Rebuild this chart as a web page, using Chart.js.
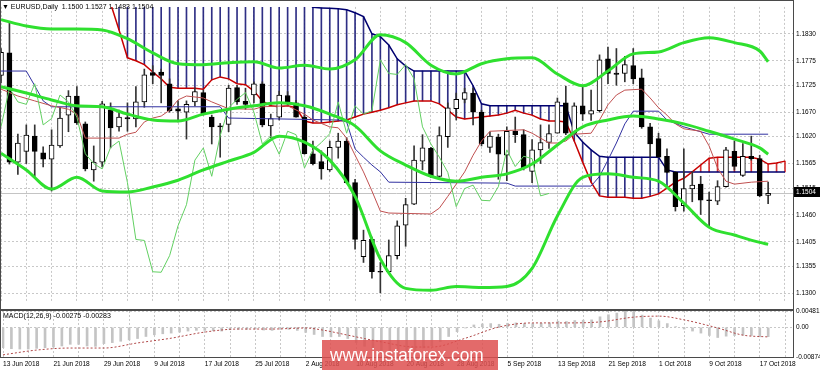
<!DOCTYPE html>
<html>
<head>
<meta charset="utf-8">
<title>EURUSD Daily</title>
<script src="https://cdn.jsdelivr.net/npm/chart.js@4.4.1/dist/chart.umd.min.js"></script>
<style>
    body { margin: 0; width: 820px; height: 370px; overflow: hidden; background: #fff; position: relative;
           font-family: 'Liberation Sans', Arial, sans-serif; }
    canvas { position: absolute; left: 0; }
    #mainChart { top: 0; }
    #macdChart { top: 300px; }
    .frame { position: absolute; left: 0; width: 794px; box-sizing: border-box; border: 1px solid #4a4a4a; pointer-events: none; }
    .label { position: absolute; font-size: 7px; color: #000; white-space: pre; }
    #watermark { position: absolute; left: 322px; top: 340px; width: 176px; height: 32px; background: rgba(222, 80, 80, 0.85); overflow: hidden; }
    #watermark span { position: absolute; left: 8px; top: 4px; color: #fff; font-size: 19px; transform: scaleX(0.91); transform-origin: left top; white-space: nowrap; }
</style>
</head>
<body>
<canvas id="mainChart" width="820" height="310"></canvas>
<canvas id="macdChart" width="820" height="70"></canvas>
<div class="frame" style="top:0;height:310px"></div>
<div class="frame" style="top:310px;height:48px"></div>
<div class="label" id="title" style="left:2px;top:3px"></div>
<div class="label" id="macdTitle" style="left:3px;top:312px"></div>
<div id="watermark"><span>www.instaforex.com</span></div>
<script>
// ---- data ----
const dateLabels = ['13 Jun 2018', '21 Jun 2018', '29 Jun 2018', '9 Jul 2018', '17 Jul 2018', '25 Jul 2018',
    '2 Aug 2018', '10 Aug 2018', '20 Aug 2018', '28 Aug 2018', '5 Sep 2018', '13 Sep 2018',
    '21 Sep 2018', '1 Oct 2018', '9 Oct 2018', '17 Oct 2018'];
const priceTicks = [1.1830, 1.1775, 1.1725, 1.1670, 1.1620, 1.1565, 1.1515, 1.1460, 1.1405, 1.1355, 1.1300];
const macdTicks = [0.00481, 0, -0.00874];
const macdTickLabels = ['0.00481', '0.00', '-0.00874'];

const opens = [1.1745,1.1791,1.1568,1.1590,1.1621,1.1587,1.1574,1.1601,1.1664,1.1703,
    1.1646,1.1552,1.1568,1.1675,1.1640,1.1659,1.1656,1.1691,1.1751,1.1752,
    1.1728,1.1677,1.1670,1.1691,1.1710,1.1660,1.1642,1.1645,1.1720,1.1692,
    1.1705,1.1728,1.1642,1.1660,1.1704,1.1689,1.1660,1.1585,1.1569,1.1552,
    1.1598,1.1611,1.1526,1.1375,1.1410,1.1345,1.1344,1.1377,1.1439,1.1482,
    1.1570,1.1596,1.1539,1.1620,1.1677,1.1696,1.1709,1.1670,1.1598,1.1619,
    1.1582,1.1631,1.1624,1.1549,1.1593,1.1608,1.1627,1.1689,1.1627,1.1683,
    1.1666,1.1673,1.1779,1.1750,1.1749,1.1765,1.1740,1.1640,1.1616,1.1580,
    1.1547,1.1479,1.1513,1.1523,1.1491,1.1488,1.1518,1.1590,1.1541,1.1580,
    1.1575,1.1500];
const highs = [1.1800,1.1852,1.1625,1.1644,1.1644,1.1599,1.1634,1.1680,1.1714,1.1722,
    1.1650,1.1601,1.1692,1.1689,1.1674,1.1689,1.1722,1.1758,1.1765,1.1758,
    1.1738,1.1693,1.1693,1.1719,1.1715,1.1664,1.1647,1.1725,1.1725,1.1719,
    1.1732,1.1732,1.1666,1.1713,1.1712,1.1694,1.1664,1.1611,1.1591,1.1611,
    1.1627,1.1618,1.1533,1.1429,1.1415,1.1363,1.1409,1.1448,1.1494,1.1601,
    1.1624,1.1598,1.1640,1.1689,1.1709,1.1719,1.1719,1.1674,1.1630,1.1625,
    1.1640,1.1660,1.1634,1.1614,1.1644,1.1644,1.1699,1.1723,1.1689,1.1722,
    1.1715,1.1787,1.1803,1.1800,1.1784,1.1800,1.1758,1.1647,1.1627,1.1595,
    1.1549,1.1595,1.1549,1.1539,1.1507,1.1530,1.1598,1.1611,1.1606,1.1621,
    1.1582,1.1527];
const lows = [1.1730,1.1564,1.1543,1.1565,1.1539,1.1558,1.1509,1.1598,1.1630,1.1645,
    1.1550,1.1529,1.1558,1.1597,1.1631,1.1631,1.1640,1.1680,1.1728,1.1689,
    1.1670,1.1650,1.1615,1.1683,1.1664,1.1605,1.1578,1.1630,1.1686,1.1676,
    1.1689,1.1640,1.1618,1.1654,1.1686,1.1660,1.1584,1.1562,1.1533,1.1549,
    1.1576,1.1525,1.1390,1.1363,1.1331,1.1301,1.1344,1.1370,1.1396,1.1481,
    1.1552,1.1536,1.1537,1.1598,1.1654,1.1689,1.1644,1.1601,1.1588,1.1533,
    1.1530,1.1608,1.1552,1.1526,1.1565,1.1596,1.1627,1.1624,1.1627,1.1653,
    1.1653,1.1670,1.1728,1.1725,1.1732,1.1728,1.1637,1.1578,1.1578,1.1546,
    1.1468,1.1468,1.1487,1.1461,1.1436,1.1481,1.1517,1.1552,1.1539,1.1572,
    1.1497,1.1483];
const closes = [1.1792,1.1568,1.1607,1.1623,1.1590,1.1574,1.1603,1.1658,1.1703,1.1648,
    1.1554,1.1568,1.1687,1.1638,1.1660,1.1656,1.1691,1.1746,1.1745,1.1745,
    1.1673,1.1672,1.1686,1.1712,1.1666,1.1640,1.1640,1.1719,1.1691,1.1686,
    1.1728,1.1644,1.1657,1.1705,1.1691,1.1660,1.1585,1.1565,1.1554,1.1598,
    1.1611,1.1526,1.1410,1.1408,1.1344,1.1343,1.1377,1.1438,1.1481,1.1572,
    1.1597,1.1539,1.1622,1.1679,1.1696,1.1710,1.1670,1.1605,1.1621,1.1584,
    1.1631,1.1624,1.1556,1.1593,1.1608,1.1626,1.1691,1.1627,1.1683,1.1666,
    1.1673,1.1777,1.1749,1.1747,1.1767,1.1738,1.1640,1.1605,1.1578,1.1547,
    1.1477,1.1514,1.1521,1.1490,1.1489,1.1518,1.1593,1.1559,1.1580,1.1575,
    1.1499,1.1504];

// Bollinger bands, sampled every third bar
const bbIdx = [0,3,6,9,12,15,18,21,24,27,30,33,36,39,42,45,48,51,54,57,60,63,66,69,72,75,78,81,84,87,90,91];
const bbUpper = [1.1859,1.1846,1.1840,1.1840,1.1838,1.1820,1.1791,1.1769,1.1767,1.1771,1.1773,1.1760,1.1766,1.1758,1.1777,1.1828,
    1.1812,1.1766,1.1748,1.1769,1.1779,1.1781,1.1748,1.1724,1.1754,1.1789,1.1793,1.1812,1.1822,1.1812,1.1795,1.1773];
const bbMiddle = [1.1722,1.1709,1.1695,1.1683,1.1681,1.1666,1.1654,1.1652,1.1666,1.1676,1.1683,1.1689,1.1683,1.1666,1.1642,1.1591,
    1.1562,1.1539,1.1529,1.1537,1.1544,1.1564,1.1603,1.1640,1.1654,1.1662,1.1656,1.1646,1.1631,1.1615,1.1597,1.1584];
const bbLower = [1.1586,1.1552,1.1513,1.1537,1.1509,1.1507,1.1517,1.1531,1.1552,1.1570,1.1588,1.1621,1.1609,1.1572,1.1498,1.1370,
    1.1310,1.1306,1.1314,1.1312,1.1314,1.1351,1.1458,1.1537,1.1544,1.1537,1.1529,1.1484,1.1435,1.1419,1.1404,1.1400];

// Ichimoku
const tenkanIdx = [0,2,4,6,8,9,10,14,15,16,17,18,19,20,21,22,24,25,27,30,31,34,36,37,39,40,41,42,43,44,45,46,
    51,52,53,54,55,56,57,58,62,63,64,65,66,67,68,70,71,72,73,74,76,77,78,79,80,81,83,84,85,86,87,89,91];
const tenkanVal = [1.1717,1.1703,1.1693,1.1683,1.1676,1.1666,1.1617,1.1617,1.1625,1.1629,1.1650,1.1658,1.1662,1.1674,1.1695,1.1703,
    1.1699,1.1691,1.1677,1.1676,1.1681,1.1683,1.1666,1.1654,1.1640,1.1638,1.1617,1.1582,1.1548,1.1509,1.1468,1.1464,
    1.1462,1.1474,1.1498,1.1523,1.1548,1.1582,1.1611,1.1631,1.1634,1.1627,1.1617,1.1607,1.1607,1.1611,1.1625,1.1627,
    1.1654,1.1685,1.1705,1.1715,1.1717,1.1699,1.1679,1.1664,1.1646,1.1636,1.1631,1.1601,1.1556,1.1529,1.1523,1.1527,1.1529];
const kijunIdx = [0,3,4,5,6,26,27,40,41,42,43,44,45,46,60,61,70,71,72,73,74,75,78,79,81,84,91];
const kijunVal = [1.1754,1.1754,1.1724,1.1693,1.1681,1.1681,1.1658,1.1654,1.1650,1.1595,1.1578,1.1562,1.1548,1.1527,
    1.1525,1.1519,1.1519,1.1539,1.1572,1.1607,1.1646,1.1672,1.1672,1.1654,1.1640,1.1625,1.1625];
const chikouVal = [1.1640,1.1719,1.1691,1.1686,1.1728,1.1644,1.1657,1.1705,1.1691,1.1660,
    1.1585,1.1565,1.1554,1.1598,1.1611,1.1526,1.1410,1.1408,1.1344,1.1343,
    1.1377,1.1438,1.1481,1.1572,1.1597,1.1539,1.1622,1.1679,1.1696,1.1710,
    1.1670,1.1605,1.1621,1.1584,1.1631,1.1624,1.1556,1.1593,1.1608,1.1626,
    1.1691,1.1627,1.1683,1.1666,1.1673,1.1777,1.1749,1.1747,1.1767,1.1738,
    1.1640,1.1605,1.1578,1.1547,1.1477,1.1514,1.1521,1.1490,1.1489,1.1518,
    1.1593,1.1559,1.1580,1.1575,1.1499,1.1504];
const spanStart = 13;
const spanA = [1.1892,1.1838,1.1781,1.1775,1.1767,1.1752,1.1738,1.1721,1.1719,1.1719,
    1.1719,1.1717,1.1736,1.1742,1.1738,1.1728,1.1726,1.1713,1.1693,1.1683,
    1.1681,1.1683,1.1679,1.1652,1.1648,1.1648,1.1650,1.1652,1.1654,1.1660,
    1.1666,1.1670,1.1674,1.1679,1.1685,1.1689,1.1693,1.1693,1.1693,1.1687,
    1.1674,1.1660,1.1656,1.1658,1.1660,1.1662,1.1664,1.1668,1.1674,1.1668,
    1.1664,1.1656,1.1652,1.1652,1.1650,1.1611,1.1568,1.1527,1.1499,1.1496,
    1.1496,1.1496,1.1494,1.1494,1.1498,1.1503,1.1515,1.1527,1.1535,1.1548,
    1.1562,1.1576,1.1578,1.1578,1.1578,1.1578,1.1578,1.1574,1.1564,1.1566,
    1.1570];
const spanB = [1.1900,1.1900,1.1900,1.1900,1.1900,1.1900,1.1900,1.1900,1.1900,1.1900,
    1.1900,1.1900,1.1900,1.1900,1.1900,1.1900,1.1900,1.1900,1.1900,1.1900,
    1.1900,1.1900,1.1900,1.1900,1.1884,1.1883,1.1882,1.1881,1.1879,1.1873,
    1.1865,1.1830,1.1824,1.1807,1.1779,1.1764,1.1754,1.1754,1.1754,1.1754,
    1.1754,1.1754,1.1754,1.1724,1.1687,1.1683,1.1683,1.1683,1.1683,1.1683,
    1.1683,1.1683,1.1683,1.1683,1.1683,1.1629,1.1609,1.1593,1.1580,1.1578,
    1.1578,1.1578,1.1578,1.1578,1.1578,1.1578,1.1552,1.1548,1.1548,1.1548,
    1.1548,1.1548,1.1548,1.1548,1.1548,1.1548,1.1548,1.1548,1.1548,1.1548,
    1.1548];

// MACD(12,26,9)
const macdMain = [-0.0060,-0.0063,-0.0064,-0.0064,-0.0062,-0.0060,-0.0058,-0.0055,-0.0050,-0.0050,
    -0.0055,-0.0056,-0.0048,-0.0045,-0.0041,-0.0037,-0.0033,-0.0027,-0.0022,-0.0019,
    -0.0017,-0.0014,-0.0011,-0.0009,-0.0009,-0.0010,-0.0011,-0.0007,-0.0006,-0.0006,
    -0.0005,-0.0008,-0.0009,-0.0006,-0.0006,-0.0009,-0.0015,-0.0021,-0.0027,-0.0028,
    -0.0027,-0.0033,-0.0045,-0.0056,-0.0068,-0.0078,-0.0085,-0.0087,-0.0082,-0.0072,
    -0.0061,-0.0054,-0.0042,-0.0027,-0.0013,-0.0002,0.0007,0.0010,0.0011,0.0009,
    0.0012,0.0013,0.0011,0.0011,0.0012,0.0013,0.0018,0.0017,0.0020,0.0021,
    0.0022,0.0031,0.0037,0.0042,0.00481,0.0046,0.0036,0.0027,0.0019,0.0011,
    0.0002,-0.0005,-0.0011,-0.0017,-0.0024,-0.0030,-0.0026,-0.0024,-0.0023,-0.0024,
    -0.0028,-0.00275];
const signalIdx = [0,4,8,12,16,20,24,28,32,36,38,41,45,49,51,55,59,63,67,71,75,78,81,85,88,91];
const signalVal = [-0.0081,-0.0067,-0.0061,-0.0061,-0.0046,-0.0032,-0.0014,-0.0005,-0.0005,-0.0002,-0.0008,-0.0023,-0.0043,
    -0.0058,-0.0058,-0.0032,0.0001,0.0013,0.0013,0.0016,0.0030,0.0033,0.0022,-0.0002,-0.0023,-0.00283];

// ---- chart setup ----
Chart.defaults.font.family = "'Liberation Sans', Arial, sans-serif";
Chart.defaults.color = '#000';
Chart.defaults.animation = false;
Chart.defaults.responsive = false;
Chart.defaults.events = [];
Chart.defaults.plugins.legend.display = false;
Chart.defaults.plugins.tooltip.enabled = false;

const X_MIN = -0.12, X_MAX = 93.95;
const gridColor = '#c8c8c8';
const last = closes.length - 1;
const lastClose = closes[last];

function pts(xs, ys) {
    return xs.map((x, i) => ({ x: x, y: ys[i] }));
}
function gridEveryThirdBar(axis) {
    const t = [];
    for (let i = 0; i <= X_MAX; i += 3) t.push({ value: i });
    axis.ticks = t;
}
function lineSet(data, color, width, order, smooth) {
    const ds = { type: 'line', data: data, borderColor: color, borderWidth: width, pointRadius: 0,
                 tension: 0, fill: false, order: order };
    if (smooth) ds.cubicInterpolationMode = 'monotone';
    return ds;
}

document.getElementById('title').textContent = '\u25BC EURUSD,Daily  ' +
    [opens[last], highs[last], lows[last], closes[last]].map(v => v.toFixed(4)).join(' ');
document.getElementById('macdTitle').textContent = 'MACD(12,26,9) ' +
    macdMain[last].toFixed(5) + ' ' + signalVal[signalVal.length - 1].toFixed(5);

// grey last-price line and the black price tag on the axis
const lastPriceTag = {
    id: 'lastPriceTag',
    beforeDatasetsDraw(chart) {
        const { ctx, chartArea, scales } = chart;
        const py = Math.round(scales.y.getPixelForValue(lastClose)) + 0.5;
        ctx.save();
        ctx.strokeStyle = '#c4c4c4';
        ctx.lineWidth = 1;
        ctx.beginPath();
        ctx.moveTo(chartArea.left, py);
        ctx.lineTo(chartArea.right, py);
        ctx.stroke();
        ctx.restore();
    },
    afterDraw(chart) {
        const { ctx, chartArea, scales } = chart;
        const py = Math.round(scales.y.getPixelForValue(lastClose));
        ctx.save();
        ctx.fillStyle = '#000';
        ctx.fillRect(chartArea.right, py - 6, 27, 10);
        ctx.fillStyle = '#fff';
        ctx.font = "6.5px 'Liberation Sans', Arial, sans-serif";
        ctx.textBaseline = 'middle';
        ctx.fillText(lastClose.toFixed(4), chartArea.right + 3, py - 1);
        ctx.restore();
    }
};

// 1. Price panel
const mainChart = new Chart(document.getElementById('mainChart'), {
    type: 'bar',
    data: {
        datasets: [
            {
                // cloud hatching
                data: spanA.map((a, i) => ({ x: spanStart + i, y: [a, spanB[i]] })),
                backgroundColor: ctx => spanB[ctx.dataIndex] > spanA[ctx.dataIndex] ? 'rgba(24, 24, 120, 0.9)' : 'rgba(210, 30, 30, 0.9)',
                barThickness: 1, grouped: false, order: 9
            },
            lineSet(spanA.map((a, i) => ({ x: spanStart + i, y: a })), '#c80000', 1.5, 8),
            lineSet(spanB.map((b, i) => ({ x: spanStart + i, y: b })), '#000070', 1.5, 8),
            {
                // wicks
                data: opens.map((o, i) => ({ x: i, y: [lows[i], highs[i]] })),
                backgroundColor: '#333',
                barThickness: 1, grouped: false, order: 6
            },
            {
                // bodies
                data: opens.map((o, i) => ({ x: i, y: [o, closes[i]] })),
                backgroundColor: ctx => closes[ctx.dataIndex] >= opens[ctx.dataIndex] ? '#fff' : '#000',
                borderColor: '#000', borderWidth: 1, borderSkipped: false, minBarLength: 1,
                barThickness: 5, grouped: false, order: 5
            },
            lineSet(chikouVal.map((v, i) => ({ x: i, y: v })), '#62d062', 1, 4),
            lineSet(pts(tenkanIdx, tenkanVal), '#c05050', 1, 4),
            lineSet(pts(kijunIdx, kijunVal), '#3030a0', 1, 4),
            lineSet(pts(bbIdx, bbUpper), '#2fe02f', 3, 3, true),
            lineSet(pts(bbIdx, bbMiddle), '#2fe02f', 3, 3, true),
            lineSet(pts(bbIdx, bbLower), '#2fe02f', 3, 3, true)
        ]
    },
    options: {
        layout: { padding: 0 },
        scales: {
            x: {
                type: 'linear', min: X_MIN, max: X_MAX, offset: false,
                afterBuildTicks: gridEveryThirdBar,
                afterFit: s => { s.height = 1; },
                ticks: { display: false },
                grid: { color: gridColor, drawTicks: false, offset: false },
                border: { display: false, dash: [2, 2] }
            },
            y: {
                position: 'right', min: 1.1280, max: 1.1885,
                afterBuildTicks: s => { s.ticks = priceTicks.map(v => ({ value: v })); },
                afterFit: s => { s.width = 27; },
                ticks: { font: { size: 6.5 }, color: '#000', padding: 3, callback: v => v.toFixed(4) },
                grid: { color: gridColor, drawTicks: false },
                border: { display: false, dash: [2, 2] }
            }
        }
    },
    plugins: [lastPriceTag]
});

// 2. MACD panel
const macdChart = new Chart(document.getElementById('macdChart'), {
    type: 'bar',
    data: {
        datasets: [
            {
                data: macdMain.map((v, i) => ({ x: i, y: v })),
                backgroundColor: '#c4c4c4',
                barThickness: 2, grouped: false, order: 2
            },
            {
                type: 'line', data: pts(signalIdx, signalVal), borderColor: '#b04848', borderWidth: 1,
                borderDash: [2, 2], pointRadius: 0, cubicInterpolationMode: 'monotone', fill: false, order: 1
            }
        ]
    },
    options: {
        layout: { padding: { top: 11, left: 0, right: 0, bottom: 0 } },
        scales: {
            x: {
                type: 'linear', min: X_MIN, max: X_MAX, offset: false,
                afterBuildTicks: gridEveryThirdBar,
                afterFit: s => { s.height = 13; },
                ticks: {
                    autoSkip: false, maxRotation: 0, align: 'start', padding: 3,
                    font: { size: 6.6 }, color: '#000',
                    callback: v => (v % 6 === 0 ? dateLabels[v / 6] : '')
                },
                grid: { color: gridColor, drawTicks: false, offset: false },
                border: { display: false, dash: [2, 2] }
            },
            y: {
                position: 'right', min: -0.00874, max: 0.00481,
                afterBuildTicks: s => { s.ticks = macdTicks.map(v => ({ value: v })); },
                afterFit: s => { s.width = 27; },
                ticks: { font: { size: 6.5 }, color: '#000', padding: 3,
                         callback: (v, i) => macdTickLabels[i] },
                grid: { color: gridColor, drawTicks: false },
                border: { display: false, dash: [2, 2] }
            }
        }
    }
});
</script>
</body>
</html>
